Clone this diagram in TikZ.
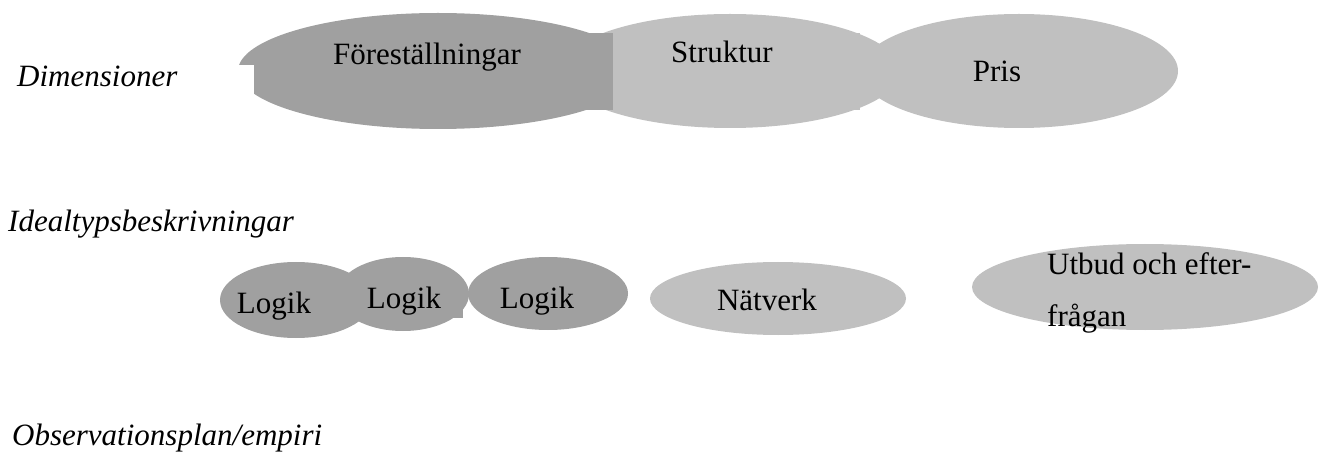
\documentclass[tikz,border=0pt]{standalone}
\usepackage{fontspec}
\setmainfont{Liberation Serif}
\definecolor{shadedark}{RGB}{160,160,160}
\definecolor{shadelight}{RGB}{192,192,192}
\begin{document}
\begin{tikzpicture}[x=1pt,y=-1pt,
  dark/.style={fill=shadedark},
  light/.style={fill=shadelight},
  lbl/.style={font=\fontsize{31}{36}\selectfont, inner sep=0pt, anchor=base},
  rowlbl/.style={font=\fontsize{31}{36}\selectfont\itshape, inner sep=0pt, anchor=base west}]
\useasboundingbox (0,0) rectangle (1319,454);

% --- top row: dimensions ---
\fill[light] (730,71) ellipse [x radius=170, y radius=57];   % Struktur
\fill[dark]  (438,71) ellipse [x radius=200, y radius=58];   % Föreställningar
\fill[dark]  (430,33) rectangle (613,110);
\fill[light] (613,33) rectangle (860,110);
\fill[light] (1019,71) ellipse [x radius=159, y radius=57];  % Pris
\fill[white] (0,65) rectangle (254,115);                     % label box

\node[lbl] (forest) at (427,65) {Föreställningar};
\node[lbl] (struktur) at (722,63) {Struktur};
\node[lbl] (pris) at (997,82) {Pris};

% --- middle row: ideal types ---
\fill[dark] (296,300) ellipse [x radius=76, y radius=38];
\fill[dark] (403,294) ellipse [x radius=66, y radius=37];
\fill[dark] (360,285) rectangle (463,318);
\fill[dark] (548,293.5) ellipse [x radius=80, y radius=36.5];
\fill[light] (778,298.5) ellipse [x radius=128, y radius=36.5];
\fill[light] (1145,287) ellipse [x radius=173, y radius=43];

\node[lbl] (logik1) at (274,313) {Logik};
\node[lbl] (logik2) at (404,308) {Logik};
\node[lbl] (logik3) at (537,308) {Logik};
\node[lbl] (natverk) at (767,310) {Nätverk};
\node[lbl, anchor=base west] (utbud1) at (1047,275) {Utbud och efter-};
\node[lbl, anchor=base west] (utbud2) at (1047,326) {frågan};

% --- row labels ---
\node[rowlbl] (dim) at (17,87) {Dimensioner};
\node[rowlbl] (ideal) at (8,232) {Idealtypsbeskrivningar};
\node[rowlbl] (obs) at (12,445) {Observationsplan/empiri};
\end{tikzpicture}
\end{document}
